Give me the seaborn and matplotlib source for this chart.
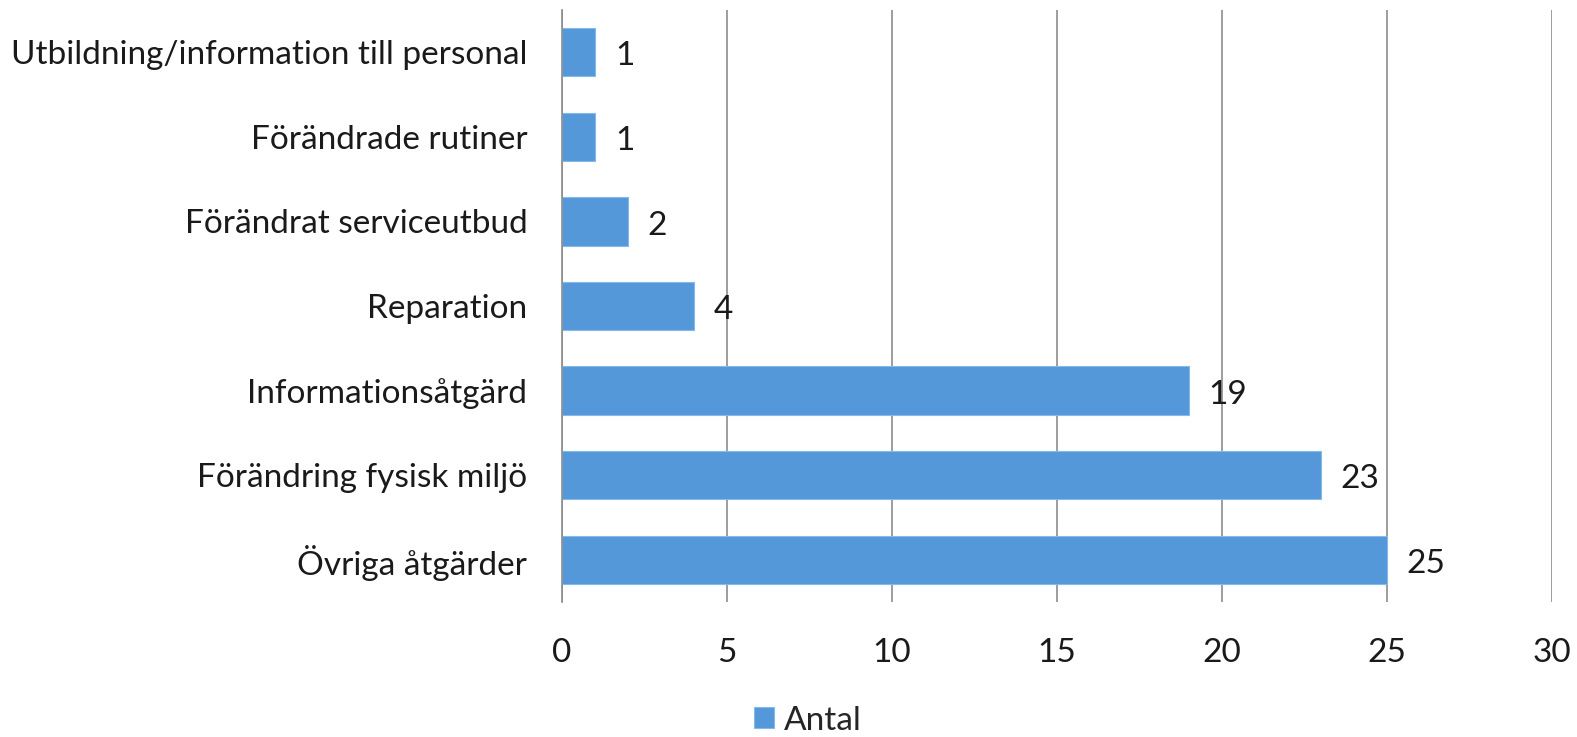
import matplotlib
matplotlib.use('Agg')
import matplotlib.pyplot as plt
import seaborn as sns
import pandas as pd

# Данные
categories = [
    'Utbildning/information till personal',
    'Förändrade rutiner',
    'Förändrat serviceutbud',
    'Reparation',
    'Informationsåtgärd',
    'Förändring fysisk miljö',
    'Övriga åtgärder',
]
antal = [1, 1, 2, 4, 19, 23, 25]
x_ticks = [0, 5, 10, 15, 20, 25, 30]

df = pd.DataFrame({'kategori': categories, 'Antal': antal})

sns.set_theme(style='white')
plt.rcParams['font.family'] = ['Lato', 'DejaVu Sans']

fig = plt.figure(figsize=(15.77, 7.37), dpi=100)
ax = fig.add_axes([0.3564, 0.183, 0.6277, 0.8036])

bar_color = '#5498da'
sns.barplot(data=df, y='kategori', x='Antal', orient='h', color=bar_color,
            saturation=1, width=0.57, edgecolor='#86b8e8', linewidth=0.8,
            ax=ax, label='Antal')

fs = 24
for i, v in enumerate(antal):
    ax.text(v + 0.6, i + 0.05, str(v), va='center', ha='left', fontsize=fs, color='#1a1a1a')

ax.set_xlim(0, 30)
ax.set_ylim(len(categories) - 0.5, -0.5)
ax.set_xticks(x_ticks)
ax.set_xticklabels([str(t) for t in x_ticks], fontsize=fs, color='#1a1a1a')
ax.tick_params(axis='x', length=0, pad=26)
ax.tick_params(axis='y', length=0, pad=25, labelsize=fs, labelcolor='#1a1a1a')
ax.set_xlabel('')
ax.set_ylabel('')
ax.grid(axis='x', color='#8c8c8c', linewidth=1.2)
ax.set_axisbelow(True)
for s in ['top', 'right', 'bottom']:
    ax.spines[s].set_visible(False)
ax.spines['left'].set_color('#8c8c8c')
ax.spines['left'].set_linewidth(1.2)

# Легенда внизу
leg = ax.legend(loc='center', bbox_to_anchor=(0.248, -0.2), frameon=False, borderpad=0.1,
                fontsize=fs, handlelength=0.6, handleheight=0.6, handletextpad=0.3)

fig.savefig('out.png', dpi=100, facecolor='white')
